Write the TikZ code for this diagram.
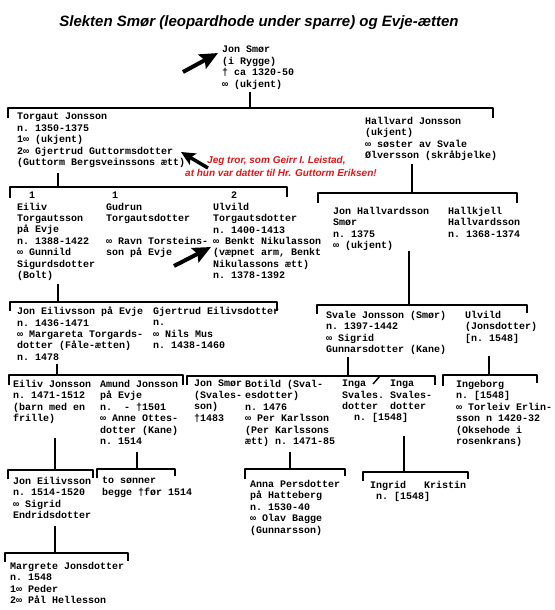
\documentclass[tikz,border=0pt]{standalone}
\usepackage{fontspec}
\usepackage{xcolor}
\usepackage{tikz}
\usetikzlibrary{arrows.meta,positioning,calc}
\setsansfont{Liberation Sans}
\setmonofont{Liberation Mono}
\definecolor{notered}{RGB}{222,24,24}
\newcommand{\persfont}{\fontsize{10}{11.4}\selectfont\ttfamily\bfseries}

\begin{document}
\begin{tikzpicture}[
        x=1pt, y=-1pt,
        person/.style={anchor=north west, align=left, inner sep=0pt, font=\persfont},
        tree/.style={draw, line width=1.4pt, line join=round},
        pointer/.style={line width=4pt, -{Stealth[length=18pt, width=16pt, inset=3pt]}},
        note/.style={anchor=west, align=left, inner sep=0pt, text=notered, font=\fontsize{10}{13}\selectfont\sffamily\bfseries\itshape},
        headline/.style={inner sep=0pt, font=\fontsize{15}{18}\selectfont\sffamily\bfseries\itshape}
    ]
    \useasboundingbox (0,0) rectangle (554,610);

    % Title
    \node[headline] (title) at (259,23) {Slekten Smør (leopardhode under sparre) og Evje-ætten};

    % Generation 1
    \node[person] (jon) at (222,46) {Jon Smør\\(i Rygge)\\† ca 1320-50\\∞ (ukjent)};

    % Generation 2
    \node[person] (torgaut) at (17,113) {Torgaut Jonsson\\n. 1350-1375\\1∞ (ukjent)\\2∞ Gjertrud Guttormsdotter\\(Guttorm Bergsveinssons ætt)};
    \node[person] (hallvard) at (365,117) {Hallvard Jonsson\\(ukjent)\\∞ søster av Svale\\Ølversson (skråbjelke)};
    \node[note] (note) at (185,166) {\hspace*{22pt}Jeg tror, som Geirr I. Leistad,\\at hun var datter til Hr. Guttorm Eriksen!};

    % Generation 3
    \node[person] (eiliv) at (17,192) {~~1\\Eiliv\\Torgautsson\\på Evje\\n. 1388-1422\\∞ Gunnild\\Sigurdsdotter\\(Bolt)};
    \node[person] (gudrun) at (106,192) {~1\\Gudrun\\Torgautsdotter\\~\\∞ Ravn Torsteins-\\son på Evje};
    \node[person] (ulvild) at (213,192) {~~~2\\Ulvild\\Torgautsdotter\\n. 1400-1413\\∞ Benkt Nikulasson\\(væpnet arm, Benkt\\Nikulassons ætt)\\n. 1378-1392};
    \node[person] (jonh) at (333,207) {Jon Hallvardsson\\Smør\\n. 1375\\∞ (ukjent)};
    \node[person] (hallkjell) at (448,207) {Hallkjell\\Hallvardsson\\n. 1368-1374};

    % Generation 4
    \node[person] (jone) at (17,307) {Jon Eilivsson på Evje\\n. 1436-1471\\∞ Margareta Torgards-\\dotter (Fåle-ætten)\\n. 1478};
    \node[person] (gjertrud) at (153,307) {Gjertrud Eilivsdotter\\n.\\∞ Nils Mus\\n. 1438-1460};
    \node[person] (svale) at (326,311) {Svale Jonsson (Smør)\\n. 1397-1442\\∞ Sigrid\\Gunnarsdotter (Kane)};
    \node[person] (ulvildj) at (465,311) {Ulvild\\(Jonsdotter)\\{}[n. 1548]};

    % Generation 5
    \node[person] (eilivj) at (13,380) {Eiliv Jonsson\\n. 1471-1512\\(barn med en\\frille)};
    \node[person] (amund) at (100,380) {Amund Jonsson\\på Evje\\n.~~-~†1501\\∞ Anne Ottes-\\dotter (Kane)\\n. 1514};
    \node[person] (jons) at (194,380) {Jon Smør\\(Svales-\\son)\\†1483};
    \node[person] (botild) at (245,380) {Botild (Sval-\\esdotter)\\n. 1476\\∞ Per Karlsson\\(Per Karlssons\\ætt) n. 1471-85};
    \node[person] (ingas) at (342,380) {Inga~~~~Inga\\Svales.~Svales-\\dotter~~dotter\\~~n. [1548]};
    \node[person] (ingeborg) at (456,380) {Ingeborg\\n. [1548]\\∞ Torleiv Erlin-\\sson n 1420-32\\(Oksehode i\\rosenkrans)};

    % Generation 6
    \node[person] (jonei) at (13,477) {Jon Eilivsson\\n. 1514-1520\\∞ Sigrid\\Endridsdotter};
    \node[person] (sons) at (102,477) {to sønner\\begge †før 1514};
    \node[person] (anna) at (250,480) {Anna Persdotter\\på Hatteberg\\n. 1530-40\\∞ Olav Bagge\\(Gunnarsson)};
    \node[person] (ingrid) at (370,481) {Ingrid~~~Kristin\\~n. [1548]};

    % Generation 7
    \node[person] (margrete) at (10,562) {Margrete Jonsdotter\\n. 1548\\1∞ Peder\\2∞ Pål Hellesson};

    % Family lines
    \coordinate (f1) at (250,108);
    \coordinate (f2) at (58,187);
    \coordinate (f3) at (412,193);
    \coordinate (f4) at (58,302);
    \coordinate (f5) at (409,305);
    \coordinate (f6) at (57,375);
    \coordinate (f7) at (348,376);
    \coordinate (f8) at (489,375);
    \coordinate (f9) at (55,470);
    \coordinate (f10) at (137,469);
    \coordinate (f11) at (290,469);
    \coordinate (f12) at (404,472);
    \coordinate (f13) at (55,553);

    \draw[tree] (8,118) |- (f1) -| (493,118);
    \draw[tree] (10,198) |- (f2) -| (287,197);
    \draw[tree] (318,203) |- (f3) -| (517,203);
    \draw[tree] (10,311) |- (f4) -| (277,311);
    \draw[tree] (317,314) |- (f5) -| (527,313);
    \draw[tree] (9,385) |- (f6) -| (183,385);
    \draw[tree] (187,385) |- (f7) -| (435,385);
    \draw[tree] (443,386) |- (f8) -| (537,383);
    \draw[tree] (8,479) |- (f9) -| (93,478);
    \draw[tree] (97,478) |- (f10) -| (175,476);
    \draw[tree] (245,479) |- (f11) -| (345,476);
    \draw[tree] (363,481) |- (f12) -| (468,479);
    \draw[tree] (5,562) |- (f13) -| (128,561);
    \draw[tree] (380,376) -- (373,384);

    % Descent
    \draw[tree] ([yshift=-3pt]jon.south -| f1) -- (f1);
    \draw[tree] ([yshift=-5pt]torgaut.south -| f2) -- (f2);
    \draw[tree] ([yshift=-3pt]hallvard.south -| f3) -- (f3);
    \draw[tree] ([yshift=-3pt]eiliv.south -| f4) -- (f4);
    \draw[tree] (jonh.south -| f5) -- (f5);
    \draw[tree] ([yshift=-3pt]jone.south -| f6) -- (f6);
    \draw[tree] ([yshift=-2pt]svale.south -| f7) -- (f7);
    \draw[tree] ([yshift=-12pt]ulvildj.south -| f8) -- (f8);
    \draw[tree] ([yshift=-14pt]eilivj.south -| f9) -- (f9);
    \draw[tree] ([yshift=-7pt]amund.south -| f10) -- (f10);
    \draw[tree] ([yshift=-5pt]botild.south -| f11) -- (f11);
    \draw[tree] ([yshift=-13pt]ingas.south -| f12) -- (f12);
    \draw[tree] ([yshift=-7pt]jonei.south -| f13) -- (f13);

    % Pointers
    \coordinate (p1) at (183,72);
    \coordinate (p2) at (208,168);
    \coordinate (p2h) at (181,152);
    \coordinate (p3) at (174,266);
    \coordinate (p3h) at (211,247);
    \draw[pointer] (p1) -- ([shift={(-4,7)}]jon.north west);
    \draw[pointer, -{Stealth[length=14pt, width=13pt, inset=3pt]}, line width=3.5pt] (p2) -- (p2h);
    \draw[pointer] (p3) -- (p3h);

\end{tikzpicture}
\end{document}
